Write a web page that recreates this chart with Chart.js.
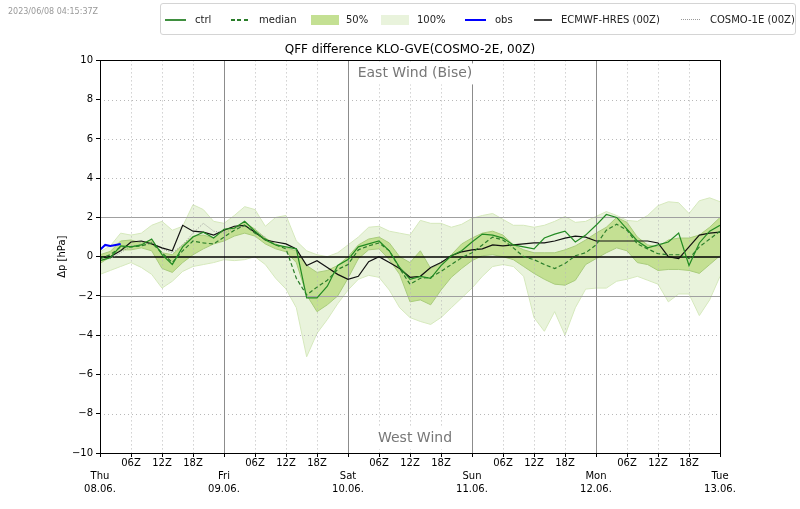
<!DOCTYPE html>
<html>
<head>
<meta charset="utf-8">
<script src="https://cdn.jsdelivr.net/npm/chart.js@4.4.0/dist/chart.umd.min.js"></script>
<style>
  html, body { margin: 0; padding: 0; background: #fff; }
  #wrap { position: relative; width: 800px; height: 509px; font-family: "DejaVu Sans", sans-serif; }
  #c { position: absolute; left: 0; top: 0; }
  #stamp { position: absolute; left: 8px; top: 7px; font-size: 8px; color: #999; }
  #legend { position: absolute; left: 160px; top: 3px; width: 636px; height: 32px; box-sizing: border-box;
            border: 1px solid #d4d4d4; border-radius: 3px; background: #fff; }
  .txt { position: absolute; top: 10px; font-size: 10px; line-height: 12px; color: #222; white-space: nowrap; }
  .ln { position: absolute; top: 15px; height: 2px; }
  .patch { position: absolute; top: 11px; height: 10px; width: 28px; }
</style>
</head>
<body>
<div id="wrap">
  <canvas id="c" width="800" height="509"></canvas>
  <div id="stamp">2023/06/08 04:15:37Z</div>
  <div id="legend">
    <div class="ln" style="left:4px;width:21px;background:#3f8f3f"></div>
    <div class="txt" style="left:34px">ctrl</div>
    <div class="ln" style="left:70px;width:19px;height:1.5px;background:repeating-linear-gradient(90deg,#2a7d2a 0 4px,transparent 4px 6.5px)"></div>
    <div class="txt" style="left:98px">median</div>
    <div class="patch" style="left:150px;background:#c4e093"></div>
    <div class="txt" style="left:185px">50%</div>
    <div class="patch" style="left:220px;background:#e9f3dc"></div>
    <div class="txt" style="left:256px">100%</div>
    <div class="ln" style="left:304px;width:21px;background:#0000ff"></div>
    <div class="txt" style="left:334px">obs</div>
    <div class="ln" style="left:373px;width:18px;height:1.5px;background:#444"></div>
    <div class="txt" style="left:400px">ECMWF-HRES (00Z)</div>
    <div class="ln" style="left:520px;width:20px;height:1px;background:repeating-linear-gradient(90deg,#999 0 1px,transparent 1px 2px)"></div>
    <div class="txt" style="left:549px">COSMO-1E (00Z)</div>
  </div>
</div>
<script>
// forecast hours since Thu 08.06. 00Z, 2-hourly
const hours = Array.from({ length: 61 }, (_, i) => i * 2);

const tickHours = [0, 6, 12, 18, 24, 30, 36, 42, 48, 54, 60, 66, 72, 78, 84, 90, 96, 102, 108, 114, 120];
const dayNames = ['Thu', 'Fri', 'Sat', 'Sun', 'Mon', 'Tue'];
const dayDates = ['08.06.', '09.06.', '10.06.', '11.06.', '12.06.', '13.06.'];
const yTicks = [-10, -8, -6, -4, -2, 0, 2, 4, 6, 8, 10];
const windLabels = ['East Wind (Bise)', 'West Wind'];

const max100 = [0.25, 0.55, 1.2, 1.1, 1.2, 1.6, 1.8, 1.35, 1.55, 2.65, 2.4, 1.8, 1.7, 2.1, 2.55, 2.4,
  1.55, 2.0, 2.1, 0.8, 0.3, 0.1, 0.0, 0.2, 0.6, 1.0, 1.5, 1.55, 1.3, 1.2, 1.1, 1.85, 1.7, 1.7, 1.5,
  1.65, 1.95, 2.1, 2.2, 1.9, 1.6, 1.6, 1.5, 1.6, 1.8, 2.05, 1.75, 1.8, 2.05, 2.3, 2.1, 1.85, 1.8,
  2.1, 2.6, 2.8, 2.75, 2.2, 2.85, 3.0, 2.8];
const min100 = [-0.9, -0.7, -0.5, -0.3, -0.55, -0.9, -1.6, -1.25, -0.75, -0.5, -0.4, -0.3, -0.15,
  -0.2, -0.15, 0.0, -0.4, -1.1, -1.65, -2.6, -5.1, -3.9, -3.2, -2.4, -1.7, -1.15, -0.95, -1.05, -1.7,
  -2.6, -3.1, -3.3, -3.45, -3.1, -2.6, -2.1, -1.6, -1.0, -0.5, -0.4, -0.5, -1.0, -3.1, -3.8, -2.8,
  -4.0, -2.6, -1.65, -1.6, -1.6, -1.25, -1.15, -1.0, -1.2, -1.4, -2.3, -1.9, -1.9, -3.0, -2.2, -1.0];
const q75 = [0.1, 0.27, 0.8, 0.85, 0.7, 0.85, 0.2, 0.1, 0.6, 1.05, 1.1, 0.95, 1.4, 1.5, 1.75, 1.4,
  0.95, 0.65, 0.45, 0.3, -0.45, -0.8, -0.7, -0.45, 0.0, 0.6, 0.9, 1.0, 0.7, 0.0, -0.3, 0.3, -0.6,
  -0.35, 0.1, 0.65, 0.95, 1.2, 1.3, 1.1, 0.6, 0.35, 0.2, 0.2, 0.2, 0.35, 0.55, 0.85, 1.2, 1.5, 2.0,
  1.75, 1.0, 0.6, 0.5, 0.85, 0.95, 0.95, 1.1, 1.5, 2.0];
const q25 = [-0.35, 0.0, 0.35, 0.35, 0.45, 0.3, -0.6, -0.8, -0.3, 0.1, 0.4, 0.65, 0.8, 1.05, 1.2,
  1.05, 0.65, 0.4, 0.25, -0.3, -1.95, -2.8, -2.45, -2.0, -1.1, -0.1, 0.35, 0.4, -0.15, -0.9, -2.3,
  -2.2, -2.45, -1.7, -1.05, -0.6, -0.2, 0.05, 0.1, 0.0, -0.15, -0.5, -0.85, -1.15, -1.4, -1.45,
  -1.2, -0.4, -0.1, 0.2, 0.45, 0.3, -0.3, -0.4, -0.7, -0.65, -0.65, -0.7, -0.85, -0.4, 0.05];
const median = [-0.1, 0.1, 0.5, 0.5, 0.55, 0.7, 0.2, -0.3, 0.3, 0.8, 0.7, 0.65, 1.0, 1.35, 1.6, 1.2,
  0.9, 0.6, 0.4, -1.1, -1.95, -1.55, -1.2, -0.65, -0.4, 0.35, 0.55, 0.7, 0.3, -0.6, -1.4, -1.1, -1.05,
  -0.75, -0.4, -0.05, 0.2, 0.6, 1.0, 0.85, 0.45, 0.0, -0.15, -0.4, -0.6, -0.35, 0.05, 0.2, 0.6, 1.35,
  1.65, 1.35, 0.65, 0.4, 0.15, 0.1, 0.1, -0.1, 0.5, 0.9, 1.3];
const ctrl = [-0.2, -0.05, 0.55, 0.5, 0.6, 0.9, 0.1, -0.4, 0.5, 1.0, 1.25, 0.95, 1.4, 1.45, 1.8, 1.3,
  0.85, 0.6, 0.5, 0.4, -2.1, -2.1, -1.5, -0.45, -0.15, 0.5, 0.65, 0.8, 0.3, -0.55, -1.15, -1.0, -1.1,
  -0.45, 0.05, 0.3, 0.75, 1.15, 1.1, 0.95, 0.6, 0.5, 0.4, 0.95, 1.15, 1.3, 0.75, 1.1, 1.6, 2.15, 2.0,
  1.4, 0.8, 0.45, 0.6, 0.75, 1.2, -0.45, 0.7, 1.3, 1.6];
const hres = [-0.05, 0.0, 0.3, 0.75, 0.8, 0.65, 0.45, 0.3, 1.6, 1.3, 1.25, 1.1, 1.35, 1.55, 1.6, 1.25,
  0.85, 0.75, 0.65, 0.4, -0.45, -0.2, -0.55, -0.9, -1.15, -1.0, -0.25, 0.0, -0.3, -0.6, -1.05, -1.0,
  -0.55, -0.3, 0.05, 0.25, 0.35, 0.4, 0.6, 0.55, 0.6, 0.65, 0.7, 0.7, 0.8, 0.95, 1.05, 1.0, 0.8, 0.8,
  0.8, 0.8, 0.8, 0.8, 0.7, 0.0, -0.1, 0.5, 1.1, 1.2, 1.25];
const cosmo1 = [-0.1, -0.1, 0.2, 0.55, 0.6, 0.75, 0.4, 0.2, 0.6, 1.2, 1.7, 1.3, 1.2, 1.45, 1.55, 1.3, 1.0];
const obsHours = [0, 1, 2, 3, 4];
const obsValues = [0.35, 0.6, 0.55, 0.6, 0.65];

const FONT = '"DejaVu Sans", sans-serif';

function tickLabel(v) {
  if (v % 24 === 0) {
    const d = v / 24;
    return ['', dayNames[d], dayDates[d]];
  }
  return String(v % 24).padStart(2, '0') + 'Z';
}

const backdrop = {
  id: 'backdrop',
  beforeDatasetDraw(chart, args) {
    if (args.index !== 4) return;   // after the two bands, before the lines
    const { ctx, chartArea: a, scales: { x, y } } = chart;
    ctx.save();
    ctx.lineWidth = 1;
    yTicks.forEach(v => {
      if (v <= -10 || v >= 10 || v === 0) return;
      const py = Math.round(y.getPixelForValue(v)) + 0.5;
      const solid = Math.abs(v) === 2;
      ctx.setLineDash(solid ? [] : [1, 3]);
      ctx.strokeStyle = solid ? '#a0a0a0' : '#b8b8b8';
      ctx.beginPath(); ctx.moveTo(a.left, py); ctx.lineTo(a.right, py); ctx.stroke();
    });
    tickHours.forEach(h => {
      if (h <= 0 || h >= 120) return;
      const px = Math.round(x.getPixelForValue(h)) + 0.5;
      const day = h % 24 === 0;
      ctx.setLineDash(day ? [] : [1, 3]);
      ctx.strokeStyle = day ? '#8c8c8c' : '#b8b8b8';
      ctx.beginPath(); ctx.moveTo(px, a.top); ctx.lineTo(px, a.bottom); ctx.stroke();
    });
    ctx.setLineDash([]);
    ctx.font = '14px ' + FONT;
    ctx.textAlign = 'center';
    ctx.textBaseline = 'middle';
    const cx = (a.left + a.right) / 2 + 5;
    [[windLabels[0], a.top + 13], [windLabels[1], a.bottom - 15]].forEach(([t, ty]) => {
      const w = ctx.measureText(t).width;
      ctx.fillStyle = '#fff';
      ctx.fillRect(cx - w / 2 - 3, ty - 10, w + 6, 21);
      ctx.fillStyle = '#777';
      ctx.fillText(t, cx, ty);
    });
    const p0 = Math.round(y.getPixelForValue(0));
    ctx.strokeStyle = '#000';
    ctx.lineWidth = 1.5;
    ctx.beginPath(); ctx.moveTo(a.left, p0); ctx.lineTo(a.right, p0); ctx.stroke();
    ctx.restore();
  },
  afterDraw(chart) {
    const { ctx, chartArea: a } = chart;
    ctx.save();
    ctx.strokeStyle = '#000';
    ctx.lineWidth = 1;
    ctx.strokeRect(Math.round(a.left) + 0.5, Math.round(a.top) + 0.5,
      Math.round(a.right - a.left), Math.round(a.bottom - a.top));
    ctx.restore();
  }
};

const line = (label, data, color, width, extra) => Object.assign({
  label, data, borderColor: color, borderWidth: width, pointRadius: 0, tension: 0, fill: false
}, extra || {});

new Chart(document.getElementById('c'), {
  type: 'line',
  data: {
    labels: hours,
    datasets: [
      line('100% max', max100, '#d6e9bd', 1, { order: 9 }),
      line('100%', min100, '#d6e9bd', 1, { order: 9, fill: '-1', backgroundColor: '#e9f3dc' }),
      line('50% top', q75, '#a9cc7c', 1, { order: 8 }),
      line('50%', q25, '#a9cc7c', 1, { order: 8, fill: '-1', backgroundColor: '#c4e093' }),
      line('COSMO-1E (00Z)', cosmo1, '#999999', 1, { order: 5, borderDash: [1, 1.5] }),
      line('ECMWF-HRES (00Z)', hres, '#111111', 1.2, { order: 4 }),
      line('median', median, '#2a7d2a', 1.2, { order: 3, borderDash: [4, 2.5] }),
      line('ctrl', ctrl, '#238b23', 1.2, { order: 2 }),
      line('obs', obsHours.map((h, i) => ({ x: h, y: obsValues[i] })), '#0000ff', 2, { order: 1 })
    ]
  },
  options: {
    responsive: false,
    animation: false,
    events: [],
    layout: { padding: { top: 37, left: 0, right: 80, bottom: 0 } },
    plugins: {
      legend: { display: false },
      tooltip: { enabled: false },
      title: {
        display: true, fullSize: false,
        text: 'QFF difference KLO-GVE(COSMO-2E, 00Z)',
        color: '#000', font: { family: FONT, size: 12, weight: 'normal' },
        padding: { top: 6, bottom: 3 }
      }
    },
    scales: {
      x: {
        type: 'linear', min: 0, max: 120,
        afterBuildTicks: s => { s.ticks = tickHours.map(v => ({ value: v })); },
        afterFit: s => { s.height = 56; },
        ticks: {
          autoSkip: false, maxRotation: 0, padding: 0, color: '#000',
          font: { family: FONT, size: 10, lineHeight: 1.3 },
          callback: v => tickLabel(v)
        },
        grid: { drawOnChartArea: false, drawTicks: true, tickLength: 4, tickColor: '#000' },
        border: { display: true, color: '#000' }
      },
      y: {
        min: -10, max: 10,
        afterBuildTicks: s => { s.ticks = yTicks.map(v => ({ value: v })); },
        afterFit: s => { s.width = 100; },
        ticks: {
          padding: 3, color: '#000',
          font: { family: FONT, size: 10 },
          callback: v => (v < 0 ? '\u2212' + Math.abs(v) : String(v))
        },
        title: {
          display: true, text: 'Δp [hPa]', color: '#000',
          font: { family: FONT, size: 10 }, padding: { top: 56, bottom: 0 }
        },
        grid: { drawOnChartArea: false, drawTicks: true, tickLength: 4, tickColor: '#000' },
        border: { display: true, color: '#000' }
      }
    }
  },
  plugins: [backdrop]
});
</script>
</body>
</html>
